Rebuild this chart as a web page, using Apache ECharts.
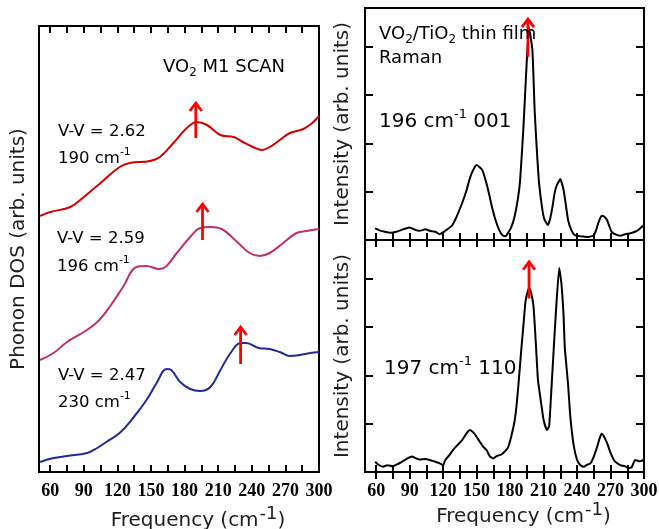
<!DOCTYPE html>
<html>
<head>
<meta charset="utf-8">
<script src="https://cdn.jsdelivr.net/npm/echarts@6/dist/echarts.min.js"></script>
<style>
  html, body { margin: 0; padding: 0; background: #fff; }
  #chart { width: 659px; height: 529px; }
</style>
</head>
<body>
<div id="chart"></div>
<script>
// ---- Phonon DOS (left panel), three V-V dimer distances ----
const freqRed = [51, 60, 78, 90, 105, 122, 131, 149, 158, 170, 182, 191, 200, 212, 224, 232, 241, 249, 256, 265, 274, 286, 294, 300];
const dosRed  = [256, 260, 265, 275, 289, 305, 309, 311, 315, 329, 344, 350, 347, 337, 335, 330, 325, 322, 325, 332, 339, 343, 349, 356];

const freqMag = [51, 63, 75, 90, 102, 113, 125, 137, 146, 157, 163, 173, 185, 194, 203, 213, 227, 238, 247, 256, 268, 280, 289, 300];
const dosMag  = [112, 119, 130, 140, 150, 165, 185, 205, 206, 203, 205, 219, 235, 244, 245, 243, 230, 219, 216, 219, 229, 239, 241, 243];

const freqBlue = [51, 63, 75, 93, 102, 110, 122, 134, 146, 155, 164, 168, 176, 185, 194, 203, 212, 221, 230, 235, 246, 256, 265, 274, 283, 292, 300];
const dosBlue  = [10, 14, 16, 19, 24, 30, 39, 54, 72, 89, 103, 102, 90, 83, 81, 85, 102, 119, 129, 129, 124, 123, 120, 116, 117, 119, 120];

// ---- Raman spectra of VO2/TiO2 thin films (right panels) ----
const ramanF001 = [59, 63, 68, 73, 78, 84, 90, 95, 99, 104, 108, 113, 117, 120, 123, 128, 132, 137, 141, 144, 147, 150, 152, 155, 158, 161, 164, 167, 170, 173, 176, 178, 181, 184, 187, 189, 192, 195, 197, 200, 202, 204, 206, 209, 211, 214, 216, 218, 220, 222, 225, 228, 230, 232, 235, 238, 242, 246, 250, 255, 257, 259, 262, 264, 267, 269, 271, 275, 279, 283, 288, 292, 295, 300];
const ramanI001 = [0.24, 0.20, 0.17, 0.15, 0.17, 0.22, 0.26, 0.21, 0.19, 0.22, 0.19, 0.17, 0.12, 0.16, 0.21, 0.30, 0.48, 0.76, 1.03, 1.28, 1.45, 1.55, 1.52, 1.45, 1.24, 0.97, 0.66, 0.41, 0.22, 0.10, 0.08, 0.14, 0.26, 0.48, 0.85, 1.24, 2.34, 3.72, 4.39, 3.93, 2.69, 1.85, 1.17, 0.62, 0.41, 0.31, 0.45, 0.69, 0.98, 1.14, 1.26, 1.03, 0.72, 0.41, 0.20, 0.10, 0.08, 0.07, 0.06, 0.10, 0.20, 0.35, 0.50, 0.49, 0.41, 0.28, 0.17, 0.11, 0.09, 0.12, 0.14, 0.17, 0.21, 0.31];

const ramanF110 = [59, 62, 66, 70, 75, 79, 83, 88, 92, 96, 99, 104, 108, 112, 117, 120, 122, 126, 129, 133, 137, 141, 144, 147, 150, 153, 156, 159, 162, 165, 168, 172, 175, 178, 181, 184, 186, 188, 190, 192, 194, 197, 199, 201, 203, 205, 208, 210, 213, 215, 217, 219, 221, 224, 226, 228, 229, 232, 234, 237, 240, 243, 246, 249, 252, 255, 258, 260, 262, 264, 267, 270, 273, 276, 279, 283, 286, 289, 292, 296, 300];
const ramanI110 = [0.21, 0.15, 0.11, 0.14, 0.12, 0.16, 0.21, 0.28, 0.32, 0.28, 0.26, 0.27, 0.25, 0.22, 0.18, 0.14, 0.25, 0.36, 0.46, 0.56, 0.66, 0.80, 0.87, 0.82, 0.73, 0.62, 0.52, 0.45, 0.32, 0.28, 0.33, 0.36, 0.42, 0.50, 0.73, 1.05, 1.42, 1.95, 2.52, 3.05, 3.56, 3.81, 3.70, 3.42, 2.70, 1.90, 1.40, 1.08, 0.87, 0.95, 1.70, 2.50, 3.28, 4.22, 3.90, 3.20, 2.59, 1.80, 1.14, 0.55, 0.25, 0.14, 0.11, 0.15, 0.18, 0.32, 0.52, 0.68, 0.79, 0.74, 0.59, 0.40, 0.25, 0.18, 0.14, 0.12, 0.08, 0.10, 0.25, 0.22, 0.25];

// ---- peak markers: [frequency, arrow base, arrow tip] ----
const arrowRed  = [190, 334, 369];
const arrowMag  = [196, 232, 268];
const arrowBlue = [230, 108, 145];
const arrow001  = [196, 3.79, 4.57];
const arrow110  = [197, 3.59, 4.35];

// ---- axis ticks ----
const freqTicks  = [60, 75, 90, 105, 120, 135, 150, 165, 180, 195, 210, 225, 240, 255, 270, 285, 300];
const freqLabels = [60, 90, 120, 150, 180, 210, 240, 270, 300];
const intensityTicks = [1, 2, 3, 4];

const FONT = 'DejaVu Sans';
const TXT = '#1e1e1e';

const zip = (xs, ys) => xs.map((x, i) => [x, ys[i]]);

function freqAxis(gridIndex, position, withLabels) {
  const ax = {
    type: 'value', gridIndex, position, min: 50, max: 300,
    axisLine: { show: false },
    splitLine: { show: false },
    axisTick: { show: true, inside: true, length: 7, customValues: freqTicks,
                lineStyle: { color: '#000', width: 2 } },
    axisLabel: { show: withLabels, customValues: freqLabels, margin: 10,
                 fontFamily: 'Liberation Serif', fontWeight: 'bold', fontSize: 18, color: '#000' }
  };
  if (withLabels) {
    ax.name = '{t|Frequency (cm}{s|-1}{t|)}';
    ax.nameLocation = 'middle';
    ax.nameGap = 28;
    ax.nameTextStyle = {
      padding: [0, 0, 0, 38],
      rich: {
        t: { fontFamily: FONT, fontSize: 20, color: TXT, lineHeight: 26, verticalAlign: 'bottom' },
        s: { fontFamily: FONT, fontSize: 18, color: TXT, lineHeight: 26, verticalAlign: 'top', padding: [0, 0, 0, 1] }
      }
    };
  }
  return ax;
}

function intensityAxis(gridIndex, position, name) {
  const ax = {
    type: 'value', gridIndex, position, min: 0, max: 4.8,
    axisLine: { show: false },
    splitLine: { show: false },
    axisLabel: { show: false },
    axisTick: { show: true, inside: true, length: 8, customValues: intensityTicks,
                lineStyle: { color: '#000', width: 2 } }
  };
  if (name) {
    ax.name = name;
    ax.nameLocation = 'middle';
    ax.nameGap = 12;
    ax.nameTextStyle = { fontFamily: FONT, fontSize: 20, color: TXT };
  }
  return ax;
}

function lineSeries(xi, yi, xs, ys, color, smooth) {
  return {
    type: 'line', xAxisIndex: xi, yAxisIndex: yi, data: zip(xs, ys),
    showSymbol: false, smooth, silent: true,
    lineStyle: { color, width: 2 }
  };
}

function renderArrow(params, api) {
  const base = api.coord([api.value(0), api.value(1)]);
  const tip = api.coord([api.value(0), api.value(2)]);
  const style = { stroke: '#ff0000', lineWidth: 2.8, fill: null };
  return {
    type: 'group',
    children: [
      { type: 'line', shape: { x1: base[0], y1: base[1], x2: tip[0], y2: tip[1] + 1 }, style },
      { type: 'polyline',
        shape: { points: [[tip[0] - 6, tip[1] + 8], [tip[0], tip[1]], [tip[0] + 6, tip[1] + 8]] },
        style: Object.assign({}, style, { lineJoin: 'miter' }) }
    ]
  };
}

function arrowSeries(xi, yi, arrow) {
  return {
    type: 'custom', xAxisIndex: xi, yAxisIndex: yi, clip: false, silent: true, z: 5,
    encode: { x: 0, y: [1, 2] },
    data: [arrow], renderItem: renderArrow
  };
}

function label(left, top, text, rich) {
  return {
    type: 'text', left, top, z: 10,
    style: { text, rich }
  };
}

const richSmall = {
  n: { fontFamily: FONT, fontSize: 16.5, color: TXT, lineHeight: 20, verticalAlign: 'bottom' },
  s: { fontFamily: FONT, fontSize: 11, color: TXT, lineHeight: 20, verticalAlign: 'top' }
};
const richTitle = {
  n: { fontFamily: FONT, fontSize: 18, color: TXT, lineHeight: 22, verticalAlign: 'bottom' },
  b: { fontFamily: FONT, fontSize: 12, color: TXT, lineHeight: 22, verticalAlign: 'bottom', padding: [0, 0, -3, 0] }
};
const richBig = {
  n: { fontFamily: FONT, fontSize: 20, color: TXT, lineHeight: 24, verticalAlign: 'bottom' },
  s: { fontFamily: FONT, fontSize: 13, color: TXT, lineHeight: 24, verticalAlign: 'top' }
};

const gridBase = { show: true, borderColor: '#000', borderWidth: 2, containLabel: false, outerBoundsMode: 'none' };

const chart = echarts.init(document.getElementById('chart'), null, { renderer: 'canvas' });

chart.setOption({
  backgroundColor: '#fff',
  animation: false,
  grid: [
    Object.assign({ left: 39, top: 26, width: 280, height: 446 }, gridBase),
    Object.assign({ left: 365, top: 8, width: 279, height: 232 }, gridBase),
    Object.assign({ left: 365, top: 240, width: 279, height: 232 }, gridBase)
  ],
  xAxis: [
    freqAxis(0, 'bottom', true),
    freqAxis(0, 'top', false),
    freqAxis(1, 'bottom', false),
    freqAxis(1, 'top', false),
    freqAxis(2, 'bottom', true),
    freqAxis(2, 'top', false)
  ],
  yAxis: [
    {
      type: 'value', gridIndex: 0, min: 0, max: 446,
      axisLine: { show: false }, axisTick: { show: false }, axisLabel: { show: false }, splitLine: { show: false },
      name: 'Phonon DOS (arb. units)', nameLocation: 'middle', nameGap: 10,
      nameTextStyle: { fontFamily: FONT, fontSize: 20, color: TXT }
    },
    intensityAxis(1, 'left', 'Intensity (arb. units)'),
    intensityAxis(1, 'right', null),
    intensityAxis(2, 'left', 'Intensity (arb. units)'),
    intensityAxis(2, 'right', null)
  ],
  series: [
    lineSeries(0, 0, freqRed, dosRed, '#d40000', 0.4),
    lineSeries(0, 0, freqMag, dosMag, '#c0306e', 0.4),
    lineSeries(0, 0, freqBlue, dosBlue, '#1f2a96', 0.4),
    lineSeries(2, 1, ramanF001, ramanI001, '#000', 0.15),
    lineSeries(4, 3, ramanF110, ramanI110, '#000', 0.15),
    arrowSeries(0, 0, arrowRed),
    arrowSeries(0, 0, arrowMag),
    arrowSeries(0, 0, arrowBlue),
    arrowSeries(2, 1, arrow001),
    arrowSeries(4, 3, arrow110)
  ],
  graphic: [
    label(163, 58, '{n|VO}{b|2}{n| M1 SCAN}', richTitle),
    label(58, 123, '{n|V-V = 2.62}', richSmall),
    label(58, 147, '{n|190 cm}{s|-1}', richSmall),
    label(57, 230, '{n|V-V = 2.59}', richSmall),
    label(57, 255, '{n|196 cm}{s|-1}', richSmall),
    label(58, 367, '{n|V-V = 2.47}', richSmall),
    label(58, 391, '{n|230 cm}{s|-1}', richSmall),
    label(379, 25, '{n|VO}{b|2}{n|/TiO}{b|2}{n| thin film}', richTitle),
    label(379, 49, '{n|Raman}', richTitle),
    label(379, 108, '{n|196 cm}{s|-1}{n| 001}', richBig),
    label(384, 355, '{n|197 cm}{s|-1}{n| 110}', richBig)
  ]
});
</script>
</body>
</html>
